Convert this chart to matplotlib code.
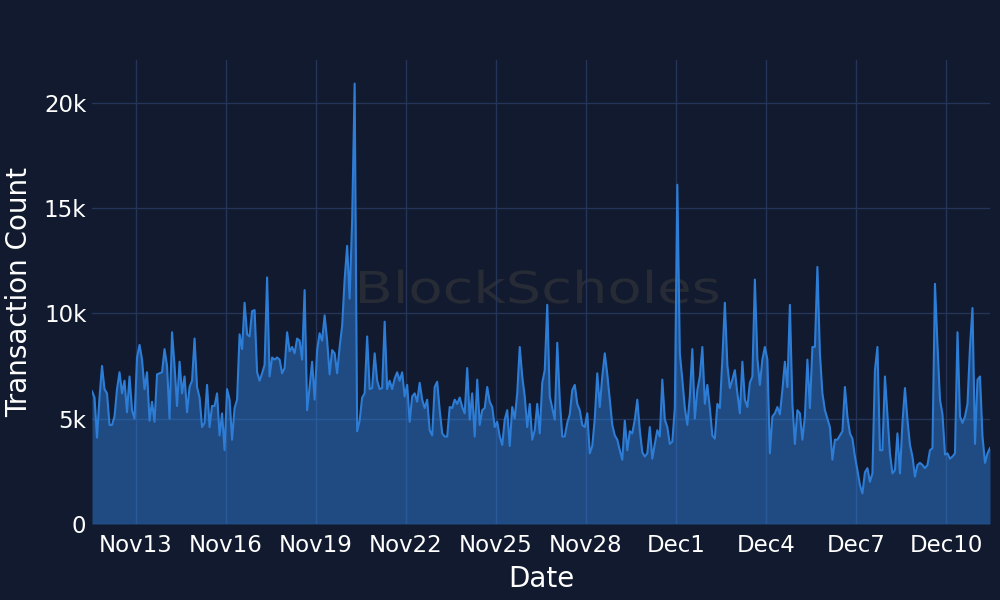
import numpy as np
import pandas as pd
import matplotlib
matplotlib.use("Agg")
import matplotlib.pyplot as plt
import matplotlib.transforms as mtransforms
from matplotlib.textpath import TextPath
from matplotlib.patches import PathPatch
from matplotlib.font_manager import FontProperties

# transaction count in thousands, one reading every 2 hours off the chart
tx_k = [
    6.3, 6.0, 4.1, 6.0, 7.5, 6.4, 6.2, 4.7, 4.7, 5.1,
    6.4, 7.2, 6.2, 6.8, 5.3, 7.0, 5.4, 5.0, 7.9, 8.5,
    7.8, 6.4, 7.2, 4.9, 5.8, 4.85, 7.1, 7.15, 7.2, 8.3,
    7.5, 5.0, 9.1, 7.5, 5.6, 7.7, 6.2, 7.0, 5.3, 6.5,
    6.8, 8.8, 6.5, 6.0, 4.6, 4.8, 6.6, 4.6, 5.6, 5.6,
    6.2, 4.2, 5.25, 3.5, 6.4, 5.9, 4.0, 5.5, 5.9, 9.0,
    8.3,
    10.5, 9.0, 8.9, 10.1, 10.15, 7.2, 6.8, 7.15, 7.55, 11.7,
    7.0, 7.9, 7.8, 7.9, 7.8, 7.15, 7.4, 9.1, 8.2, 8.4,
    8.1, 8.8, 8.7, 7.8, 11.1, 5.4, 6.5, 7.7, 5.9, 8.25,
    9.05, 8.7, 9.9, 8.7, 7.1, 8.25, 8.1, 7.15, 8.4, 9.4,
    11.6, 13.2, 10.7, 14.4, 20.9, 4.4, 4.9, 6.0, 6.2, 8.9,
    6.4, 6.45, 8.1, 6.8, 6.4, 6.45, 9.6, 6.4, 6.8, 6.4,
    6.9, 7.2, 6.8, 7.2, 6.05, 6.6, 4.85, 6.05, 6.2, 5.8,
    6.7, 5.9, 5.5, 5.9, 4.45, 4.2, 6.5, 6.75, 5.4, 4.3,
    4.15, 4.15, 5.55, 5.5, 5.9, 5.7, 6.0, 5.55, 5.25, 7.4,
    4.95, 6.2, 4.15, 6.85, 4.7, 5.4, 5.5, 6.5, 5.8, 5.55,
    4.6, 4.85, 4.15, 3.75, 4.95, 5.4, 3.7, 5.55, 5.0, 6.2,
    8.4, 7.0, 6.05, 4.6, 5.7, 4.0, 4.45, 5.7, 4.3, 6.7,
    7.3, 10.4, 6.05, 5.5, 4.95, 8.6, 5.9, 4.15, 4.15, 4.8,
    5.2, 6.35, 6.6, 5.7, 5.4, 4.7, 4.6, 5.25, 3.35, 3.7,
    5.0, 7.15, 5.55, 7.0, 8.1, 7.1, 5.9, 4.7, 4.2, 4.0,
    3.5, 3.05, 4.9, 3.5, 4.4, 4.3, 4.95, 5.9, 4.45, 3.4,
    3.2, 3.35, 4.6, 3.1, 3.8, 4.45, 4.15, 6.85, 4.95, 4.6,
    3.8, 3.9, 5.5, 16.1, 8.1, 6.85, 5.5, 4.7, 6.05, 8.3,
    5.0, 6.35, 7.0, 8.4, 5.7, 6.6, 5.5, 4.2, 4.05, 5.7,
    5.5, 7.8, 10.5, 7.55, 6.45, 6.85, 7.3, 6.2, 5.25, 7.7,
    5.9, 5.55, 6.7, 7.0, 11.6, 7.85, 6.6, 7.8, 8.4, 7.8,
    3.35, 5.1, 5.25, 5.55, 5.2, 6.35, 7.7, 6.5, 10.4, 5.7,
    3.8, 5.4, 5.25, 4.0, 5.1, 7.8, 5.5, 8.4, 8.4, 12.2,
    8.1, 6.2, 5.4, 5.0, 4.6, 3.05, 4.0, 4.0, 4.2, 4.4,
    6.5, 5.1, 4.3, 4.05, 3.2, 2.55, 1.85, 1.45, 2.45, 2.65,
    2.0, 2.4, 7.3, 8.4, 3.5, 3.5, 7.0, 5.2, 3.35, 2.4,
    2.55, 4.3, 2.4, 4.8, 6.45, 4.95, 3.75, 3.2, 2.25, 2.8,
    2.9, 2.8, 2.65, 2.8, 3.5, 3.6, 11.4, 8.5, 5.9, 5.2,
    3.3, 3.35, 3.1, 3.2, 3.35, 9.1, 5.1, 4.8, 5.1, 5.7,
    8.4, 10.25, 3.8, 6.85, 7.0, 4.15, 2.9, 3.35, 3.6,
]
start = "2023-11-11 13:00"
tick_days = ["2023-11-13", "2023-11-16", "2023-11-19", "2023-11-22", "2023-11-25",
             "2023-11-28", "2023-12-01", "2023-12-04", "2023-12-07", "2023-12-10"]
y_ticks = [0, 5000, 10000, 15000, 20000]
y_labels = ["0", "5k", "10k", "15k", "20k"]

times = pd.date_range(start, periods=len(tx_k), freq="2h")
counts = np.array(tx_k) * 1000

bg = "#111a2e"
grid_col = "#25355a"
line_col = "#2d7dd6"
plt.rcParams["font.family"] = ["DejaVu Sans"]

fig = plt.figure(figsize=(10, 6), dpi=100, facecolor=bg)
ax = fig.add_axes([0.092, 0.1267, 0.898, 0.7733])
ax.set_facecolor(bg)

# watermark, stretched to the width it has in the picture (pixels)
wm = TextPath((0, 0), "BlockScholes", size=1, prop=FontProperties(family="DejaVu Sans"))
bb = wm.get_extents()
wm_tr = mtransforms.Affine2D().translate(-bb.x0, 0).scale(358 / bb.width, 44).translate(360, 600 - 303)
ax.add_artist(PathPatch(wm, transform=wm_tr, facecolor="#272b35", lw=0, zorder=0.2))

ax.fill_between(times, counts, 0, color=line_col, alpha=0.5, lw=0, zorder=2)
ax.plot(times, counts, color=line_col, lw=1.5, zorder=3)

ax.set_xlim(times[0], times[-1])
ax.set_ylim(0, 22020)

ticks = pd.to_datetime(tick_days)
ax.set_xticks(ticks)
ax.set_xticklabels([f"{d:%b}{d.day}" for d in ticks])
ax.set_yticks(y_ticks)
ax.set_yticklabels(y_labels)

ax.grid(True, color=grid_col, lw=1)
ax.set_axisbelow(True)
for s in ax.spines.values():
    s.set_visible(False)
ax.tick_params(axis="both", length=0, colors="white", labelsize=16.5)
ax.tick_params(axis="x", pad=7)
ax.tick_params(axis="y", pad=4)

ax.set_xlabel("Date", color="white", fontsize=20, labelpad=6)
ax.set_ylabel("Transaction Count", color="white", fontsize=20, labelpad=8)

fig.savefig("out.png", dpi=100, facecolor=bg)
